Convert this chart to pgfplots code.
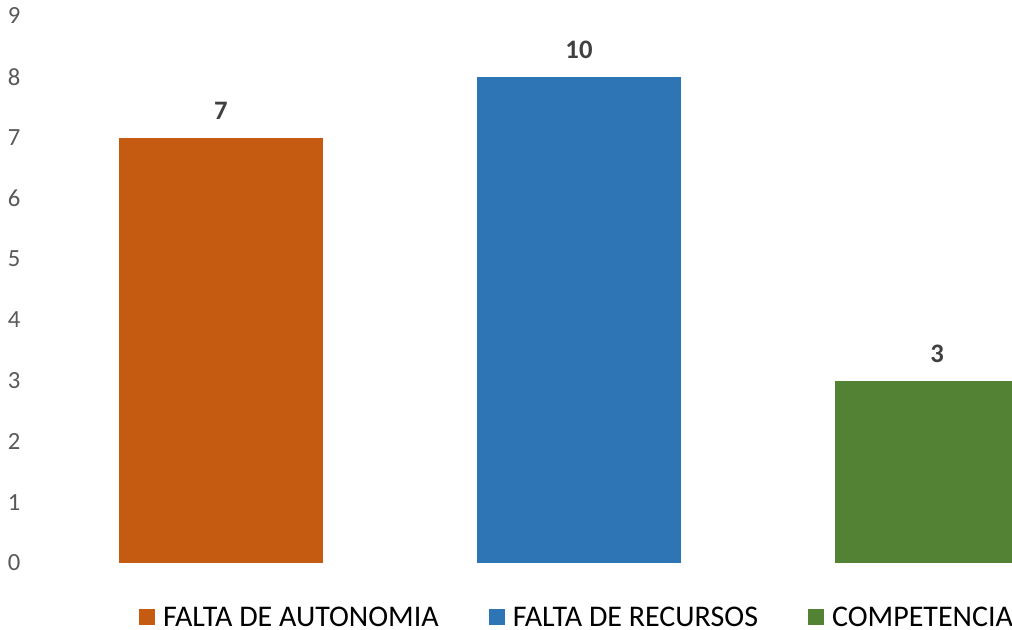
\documentclass[border=0pt]{standalone}
\usepackage{pgfplots}
\pgfplotsset{compat=1.18}
\usepackage{fontspec}
\setmainfont{Carlito}
\definecolor{corange}{HTML}{C55A11}
\definecolor{cblue}{HTML}{2E75B6}
\definecolor{cgreen}{HTML}{548235}
\definecolor{ctick}{HTML}{595959}
\definecolor{clabel}{HTML}{404040}
\begin{document}
\begin{tikzpicture}
\path[use as bounding box] (0,0) rectangle (759pt,472.5pt);
\begin{axis}[
  at={(31.5pt,50.25pt)}, anchor=south west,
  scale only axis,
  width=727.5pt, height=410.25pt,
  xmin=-0.5, xmax=2.2095, ymin=0, ymax=9,
  ybar, bar width=153pt,
  axis line style={draw=none},
  major tick length=0pt,
  xtick=\empty,
  ytick={0,1,...,9},
  /pgf/number format/assume math mode=true,
  yticklabel style={anchor=east, inner sep=0pt, xshift=-16pt, text=ctick, font=\fontsize{18.5}{18.5}\selectfont},
  point meta=explicit symbolic,
  nodes near coords,
  every node near coord/.append style={anchor=south, inner sep=0pt, yshift=13.5pt, text=clabel, font=\bfseries\fontsize{20}{20}\selectfont},
  legend columns=3,
  legend image code/.code={\fill[#1] (0pt,-6pt) rectangle (12pt,6pt);},
  legend style={at={(0.1,-0.0987)}, anchor=west, draw=none, inner sep=0pt, outer sep=0pt,
    nodes={inner sep=0pt, text depth=0pt}, font=\fontsize{22.5}{22.5}\selectfont,
    /tikz/every odd column/.append style={column sep=6pt},
    /tikz/every even column/.append style={column sep=37.5pt}},
]
\addplot[fill=corange, draw=none, bar shift=0pt] coordinates {(0,7) [7]};
\addlegendentry{FALTA DE AUTONOMIA}
\addplot[fill=cblue, draw=none, bar shift=0pt] coordinates {(1,8) [10]};
\addlegendentry{FALTA DE RECURSOS}
\addplot[fill=cgreen, draw=none, bar shift=0pt] coordinates {(2,3) [3]};
\addlegendentry{COMPETENCIA}
\end{axis}
\end{tikzpicture}
\end{document}
